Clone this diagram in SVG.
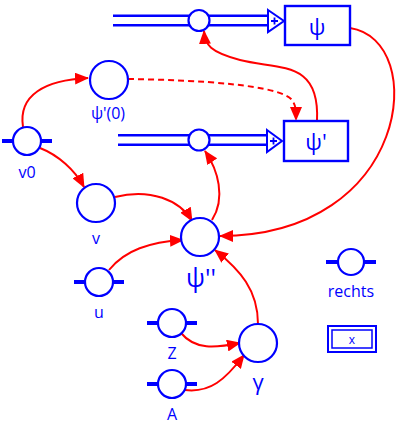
<svg xmlns="http://www.w3.org/2000/svg" width="406" height="424" viewBox="0 0 406 424">
<defs>
<style>
.n{fill:#fff;stroke:#0000ff;stroke-width:2.2}
.bar{stroke:#0000ff;stroke-width:4}
.dl{stroke:#0000ff;stroke-width:12}
.dw{stroke:#fff;stroke-width:7}
.box{fill:#fff;stroke:#0000ff;stroke-width:2.4}
.c{fill:none;stroke:#ff0000;stroke-width:2}
.t{font-family:"Open Sans","DejaVu Sans",sans-serif;fill:#0000ff;text-anchor:middle}
</style>
<marker id="ah" markerUnits="userSpaceOnUse" markerWidth="14" markerHeight="12" refX="13" refY="6" orient="auto">
<path d="M0,0 L14,6 L0,12 Z" fill="#ff0000"/>
</marker>
</defs>
<g id="connectors">
<path class="c" d="M23,127 C18,95 45,80 88,78" marker-end="url(#ah)"/>
<path class="c" d="M40,148 C58,155 75,170 84,187" marker-end="url(#ah)"/>
<path class="c" stroke-dasharray="6,4" d="M128,79 C200,80 280,85 292,100 C296,106 296,110 296,120" marker-end="url(#ah)"/>
<path class="c" d="M317,121 C320,60 280,70 240,60 C210,52 205,45 204,31" marker-end="url(#ah)"/>
<path class="c" d="M350,28 C430,40 410,236 220,236" marker-end="url(#ah)"/>
<path class="c" d="M212,220 C226,198 218,170 205,151" marker-end="url(#ah)"/>
<path class="c" d="M115,197 C150,188 180,200 192,221" marker-end="url(#ah)"/>
<path class="c" d="M109,270 C125,250 150,242 183,240" marker-end="url(#ah)"/>
<path class="c" d="M258,324 C258,290 240,270 215,250" marker-end="url(#ah)"/>
<path class="c" d="M181,333 C195,350 215,348 240,343" marker-end="url(#ah)"/>
<path class="c" d="M185,390 C210,393 225,380 244,355" marker-end="url(#ah)"/>
</g>
<g id="rail1">
<line class="dl" x1="113" y1="20.5" x2="270" y2="20.5"/>
<line class="dw" x1="113" y1="20.5" x2="270" y2="20.5"/>
<circle class="n" cx="199" cy="20.5" r="10.5"/>
<path d="M268,10 L284,21 L268,32 Z" fill="#fff" stroke="#0000ff" stroke-width="2"/>
<path d="M271,21 h7 M274.5,17.5 v7" stroke="#0000ff" stroke-width="1.8"/>
</g>
<g id="psi">
<rect class="box" x="285" y="6" width="65" height="39"/>
<text class="t" x="317" y="35" font-size="22">ψ</text>
</g>
<g id="rail2">
<line class="dl" x1="118" y1="140" x2="270" y2="140"/>
<line class="dw" x1="118" y1="140" x2="270" y2="140"/>
<circle class="n" cx="199" cy="140" r="10.5"/>
<path d="M267,130 L282,141 L267,152 Z" fill="#fff" stroke="#0000ff" stroke-width="2"/>
<path d="M270,141 h7 M273.5,137.5 v7" stroke="#0000ff" stroke-width="1.8"/>
</g>
<g id="psi1">
<rect class="box" x="284" y="121" width="64" height="40"/>
<text class="t" x="316" y="150" font-size="22">ψ'</text>
</g>
<g id="psi0">
<circle class="n" cx="109" cy="80" r="19"/>
<text class="t" x="108" y="119" font-size="16">ψ'(0)</text>
</g>
<g id="v0">
<line class="bar" x1="2" y1="141" x2="52" y2="141"/>
<circle class="n" cx="27" cy="141" r="14"/>
<text class="t" x="27" y="178" font-size="16">v0</text>
</g>
<g id="v">
<circle class="n" cx="96" cy="203" r="19"/>
<text class="t" x="96" y="244" font-size="16">v</text>
</g>
<g id="psi2">
<circle class="n" cx="200" cy="237" r="19"/>
<text class="t" x="201" y="287" font-size="25">ψ''</text>
</g>
<g id="u">
<line class="bar" x1="74" y1="282" x2="124" y2="282"/>
<circle class="n" cx="99" cy="282" r="14"/>
<text class="t" x="99" y="318" font-size="16">u</text>
</g>
<g id="Z">
<line class="bar" x1="147" y1="323" x2="197" y2="323"/>
<circle class="n" cx="172" cy="323" r="14"/>
<text class="t" x="172" y="359" font-size="16">Z</text>
</g>
<g id="A">
<line class="bar" x1="147" y1="384" x2="197" y2="384"/>
<circle class="n" cx="172" cy="384" r="14"/>
<text class="t" x="172" y="420" font-size="16">A</text>
</g>
<g id="gamma">
<circle class="n" cx="258" cy="343" r="19"/>
<text class="t" x="258" y="390" font-size="22">γ</text>
</g>
<g id="rechts">
<line class="bar" x1="326" y1="262" x2="376" y2="262"/>
<circle class="n" cx="351" cy="262" r="13"/>
<text class="t" x="351" y="297" font-size="16">rechts</text>
</g>
<g id="x">
<rect x="328" y="326" width="48" height="26" fill="#fff" stroke="#0000ff" stroke-width="2"/>
<rect x="332" y="330" width="40" height="18" fill="none" stroke="#0000ff" stroke-width="1.5"/>
<text class="t" x="352" y="344" font-size="12">x</text>
</g>
</svg>
